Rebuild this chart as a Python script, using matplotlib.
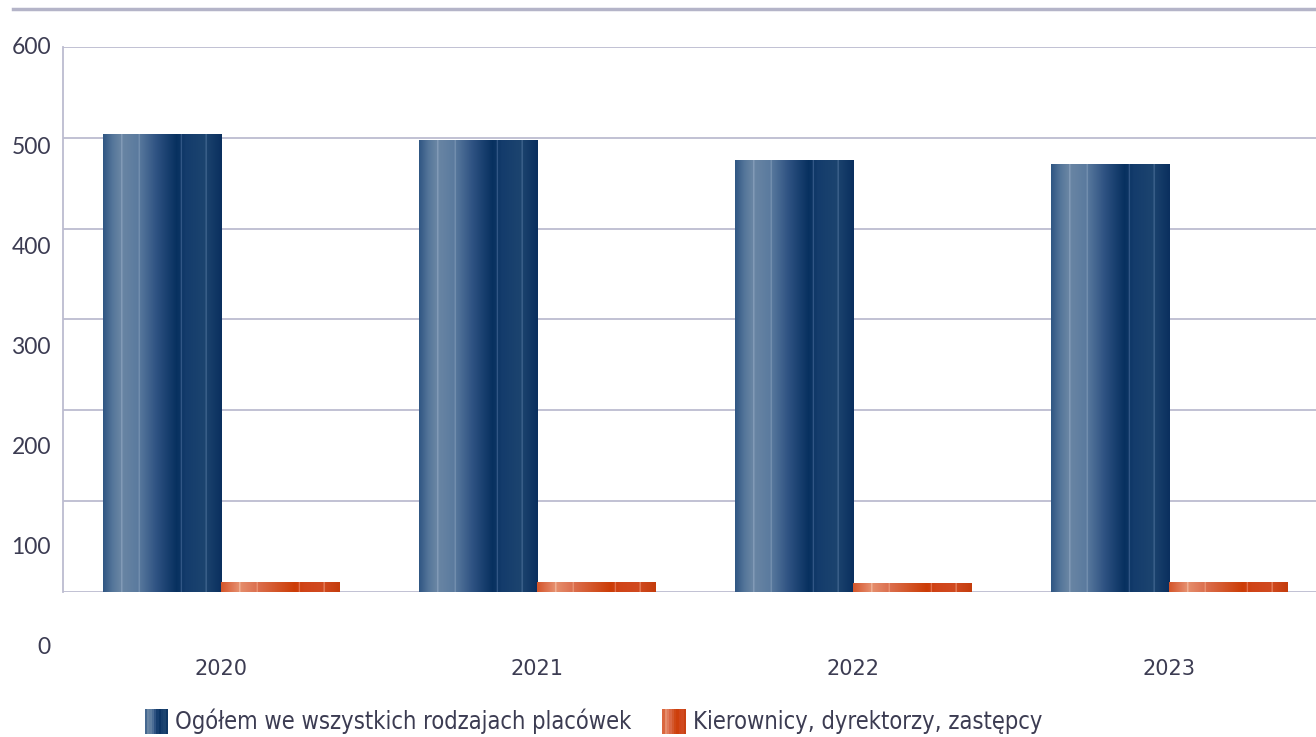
import numpy as np
import matplotlib
matplotlib.use("Agg")
import matplotlib.pyplot as plt
from matplotlib.colors import to_rgb
from matplotlib.patches import Patch, Rectangle
from matplotlib.legend_handler import HandlerBase
from matplotlib.lines import Line2D
import matplotlib.transforms as mtransforms

# data
years = ["2020", "2021", "2022", "2023"]
total = [504, 497, 475, 471]
managers = [11, 10, 9, 11]
series_names = ["Ogółem we wszystkich rodzajach placówek",
                "Kierownicy, dyrektorzy, zastępcy"]
y_ticks = [0, 100, 200, 300, 400, 500, 600]

text_col = "#3c3c52"
grid_col = "#bcbcd0"

# gradient stops (position, colour) + thin highlight lines
blue_stops = [(0.00, "#2f5683"), (0.08, "#55769a"), (0.15, "#6a86a4"),
              (0.30, "#5a7a9e"), (0.45, "#2e5282"), (0.62, "#07305f"),
              (0.70, "#143c6c"), (0.86, "#1c446f"), (1.00, "#0a2f5e")]
blue_lines = [(0.157, "#8ea6c0"), (0.305, "#7e98b6"), (0.66, "#3e6290"), (0.87, "#4a6e98")]
orange_stops = [(0.00, "#d4562a"), (0.10, "#e07a58"), (0.15, "#e6906e"),
                (0.30, "#dc7050"), (0.45, "#d4582c"), (0.62, "#cc3c06"),
                (0.70, "#d04418"), (0.86, "#d04a20"), (1.00, "#c43c0c")]
orange_lines = [(0.157, "#f4c0a8"), (0.305, "#eea080"), (0.66, "#e88060"), (0.87, "#ec9474")]


def gradient(stops, lines, n=240):
    t = np.linspace(0, 1, n)
    pos = [s[0] for s in stops]
    cols = np.array([to_rgb(s[1]) for s in stops])
    img = np.stack([np.interp(t, pos, cols[:, k]) for k in range(3)], axis=-1)
    for p, c in lines:
        i = int(p * (n - 1))
        img[i:i + 2] = to_rgb(c)
    return img[np.newaxis, :, :]


blue_img = gradient(blue_stops, blue_lines)
orange_img = gradient(orange_stops, orange_lines)

fig = plt.figure(figsize=(13.16, 7.37), dpi=100)
ax = fig.add_axes([63 / 1316, 145 / 737, 1264 / 1316, 545 / 737])

x = np.arange(len(years))
w = 0.375
b1 = ax.bar(x - w / 2, total, w, color="#1c446f", zorder=2)
b2 = ax.bar(x + w / 2, managers, w, color="#d04418", zorder=2)

for bars, img in [(b1, blue_img), (b2, orange_img)]:
    for p in bars:
        x0, y0 = p.get_x(), p.get_y()
        ax.imshow(img, extent=[x0, x0 + p.get_width(), y0, y0 + p.get_height()],
                  aspect="auto", zorder=3, interpolation="bilinear")

ax.set_xlim(-0.5, len(years) - 0.5)
ax.set_ylim(0, 600)
ax.set_yticks(y_ticks)
ax.set_yticklabels([])
ax.tick_params(axis="y", length=0)
ax.grid(axis="y", color=grid_col, linewidth=1.3, zorder=1)
ax.set_axisbelow(True)
for s in ["top", "right", "bottom"]:
    ax.spines[s].set_visible(False)
ax.spines["left"].set_color(grid_col)
ax.spines["left"].set_linewidth(1.3)

ax.set_xticks(x)
ax.set_xticklabels(years, fontsize=15, color=text_col)
ax.tick_params(axis="x", length=0, pad=48)

# y labels are drawn on a 1px-per-unit spacing, offset from the gridlines
trans = mtransforms.blended_transform_factory(ax.transAxes, ax.transData)
for v in y_ticks:
    ax.text(-0.0095, (v - 56) * 600 / 545, str(v), transform=trans, ha="right",
            va="center", fontsize=16.5, color=text_col, family="Lato", clip_on=False)

# top rule
fig.add_artist(Line2D([13 / 1316, 1.0], [1 - 9 / 737] * 2, color="#b4b4c8", linewidth=2.5))


class StripeHandler(HandlerBase):
    def __init__(self, img):
        super().__init__()
        self.img = img[0]

    def create_artists(self, legend, orig_handle, xdescent, ydescent, width, height,
                       fontsize, trans):
        n = len(self.img)
        k = 10
        arts = []
        for i in range(k):
            c = self.img[int((i + 0.5) / k * (n - 1))]
            arts.append(Rectangle((-xdescent + i * width / k, -ydescent), width / k, height,
                                  facecolor=c, edgecolor="none", transform=trans))
        return arts


h1 = Patch(color="#1c446f")
h2 = Patch(color="#d04418")
fig.legend([h1, h2], series_names, loc="center", bbox_to_anchor=(0.451, 0.021), ncol=2,
           frameon=False, handlelength=1.0, handleheight=1.3, handletextpad=0.3,
           columnspacing=1.3,
           handler_map={h1: StripeHandler(blue_img), h2: StripeHandler(orange_img)},
           prop={"family": "DejaVu Sans", "stretch": "condensed", "size": 17},
           labelcolor=text_col)

fig.savefig("out.png", dpi=100)
